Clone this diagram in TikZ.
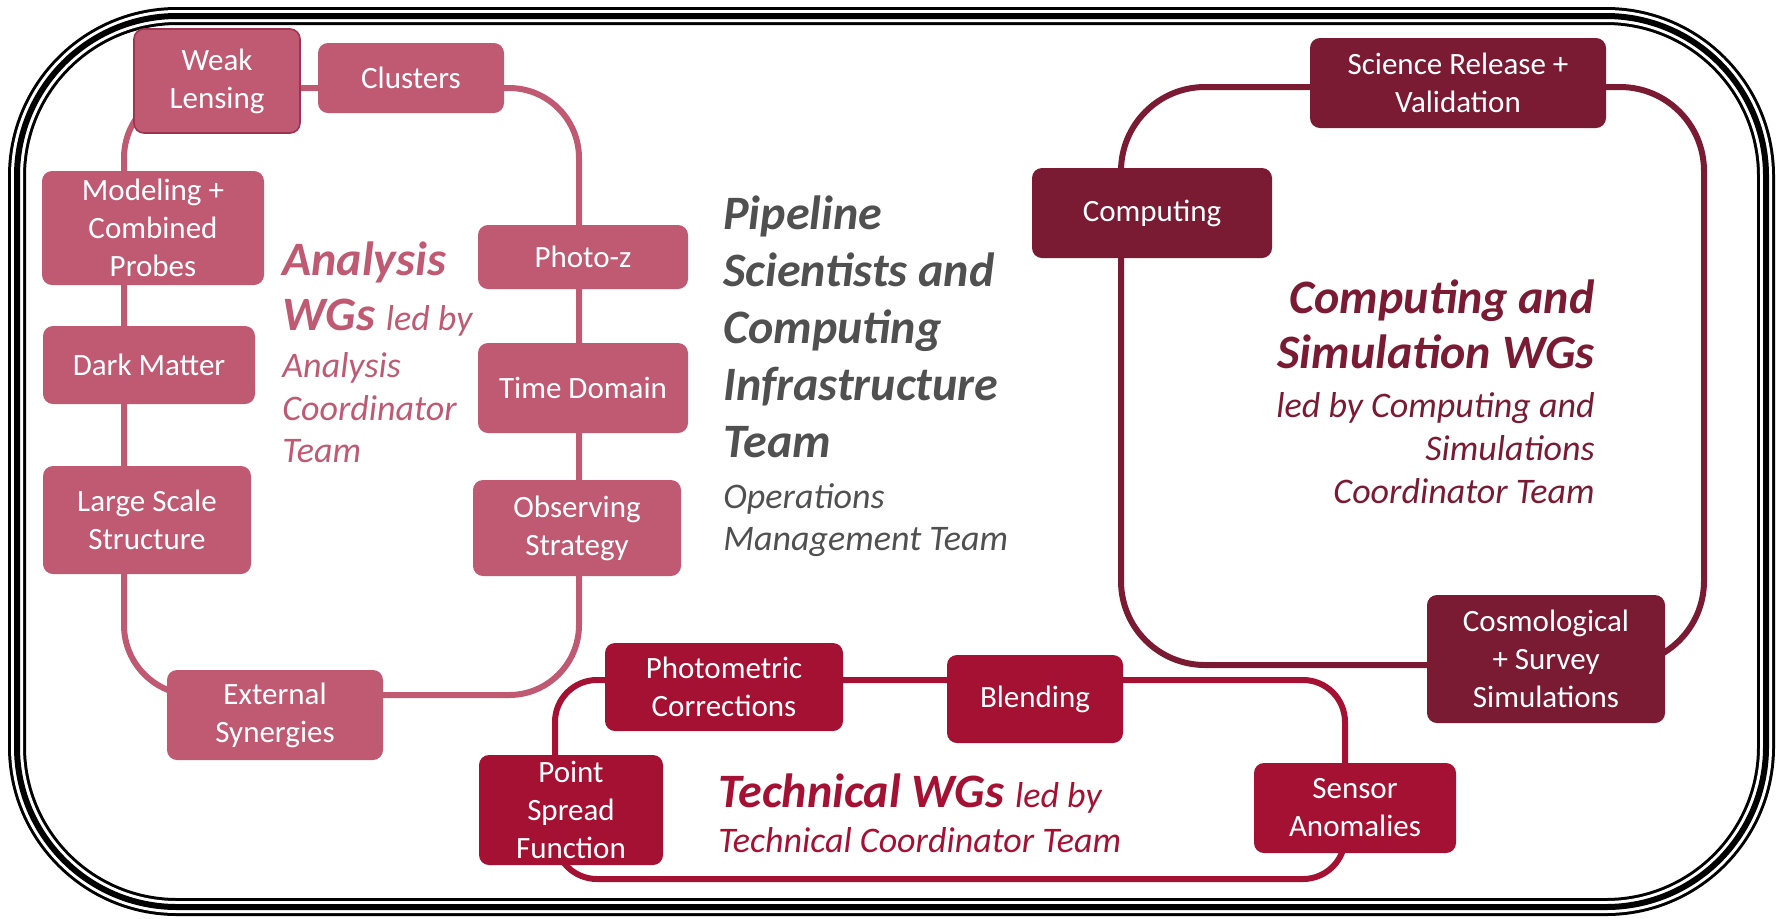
\documentclass[tikz,border=0pt]{standalone}
\usepackage{fontspec}
\setmainfont{Carlito}
\definecolor{anacol}{RGB}{192,90,115}
\definecolor{anaedge}{RGB}{160,52,80}
\definecolor{techcol}{RGB}{165,17,50}
\definecolor{compcol}{RGB}{122,27,51}
\definecolor{pipecol}{RGB}{80,80,80}
\newcommand{\subfont}{\fontsize{18}{21.6}\selectfont\mdseries\itshape}
\tikzset{
  wg/.style={rectangle,rounded corners=5pt,inner sep=0pt,align=center,
    text=white,font=\fontsize{15.5}{19}\selectfont},
  anabox/.style={wg,fill=anacol},
  techbox/.style={wg,fill=techcol},
  compbox/.style={wg,fill=compcol},
  wgloop/.style={line width=3pt,rounded corners=#1},
  bigtxt/.style={inner sep=0pt,font=\fontsize{24}{28.8}\selectfont\bfseries\itshape},
  smalltxt/.style={inner sep=0pt,font=\subfont}
}
\begin{document}
\begin{tikzpicture}[x=0.5pt,y=-0.5pt]
\useasboundingbox (0,0) rectangle (1783,918);
% outer frame
\draw[line width=9pt,rounded corners=80pt] (17,16) rectangle (1766,907);
\draw[white,line width=6pt,rounded corners=80pt] (17,16) rectangle (1766,907);
\draw[line width=3pt,rounded corners=80pt] (17,16) rectangle (1766,907);
% loop corners
\coordinate (anaTL) at (124,88);
\coordinate (anaBR) at (579,695);
\coordinate (techTL) at (555,680);
\coordinate (techBR) at (1345,879);
\coordinate (compTL) at (1121,87);
\coordinate (compBR) at (1704,665);
\draw[anacol,wgloop=35pt] (anaTL) rectangle (anaBR);
\draw[techcol,wgloop=21pt] (techTL) rectangle (techBR);
\draw[compcol,wgloop=42pt] (compTL) rectangle (compBR);
% analysis WGs
\node[anabox,draw=anaedge,line width=0.8pt,minimum width=83pt,minimum height=52pt] (wl) at (217,81) {Weak\\Lensing};
\node[anabox,minimum width=93pt,minimum height=35pt] (clu) at (411,78) {Clusters};
\node[anabox,minimum width=111pt,minimum height=57pt] (mcp) at (153,228) {Modeling +\\Combined\\Probes};
\node[anabox,minimum width=106pt,minimum height=39pt] (dm) at (149,365) {Dark Matter};
\node[anabox,minimum width=104pt,minimum height=54pt] (lss) at (147,520) {Large Scale\\Structure};
\node[anabox,minimum width=108pt,minimum height=45pt] (ext) at (275,715) {External\\Synergies};
\node[anabox,minimum width=105pt,minimum height=32pt] (pz) at (583,257) {Photo-z};
\node[anabox,minimum width=105pt,minimum height=45pt] (td) at (583,388) {Time Domain};
\node[anabox,minimum width=104pt,minimum height=48pt] (os) at (577,528) {Observing\\Strategy};
% technical WGs
\node[techbox,minimum width=119pt,minimum height=44pt] (phc) at (724,687) {Photometric\\Corrections};
\node[techbox,minimum width=88pt,minimum height=44pt] (bl) at (1035,699) {Blending};
\node[techbox,minimum width=92pt,minimum height=55pt] (psf) at (571,810) {Point\\Spread\\Function};
\node[techbox,minimum width=101pt,minimum height=45pt] (sa) at (1355,808) {Sensor\\Anomalies};
% computing and simulation WGs
\node[compbox,minimum width=148pt,minimum height=45pt] (srv) at (1458,83) {Science Release +\\Validation};
\node[compbox,minimum width=120pt,minimum height=45pt] (cmp) at (1152,213) {Computing};
\node[compbox,minimum width=119pt,minimum height=64pt] (css) at (1546,659) {Cosmological\\+ Survey\\Simulations};
% labels
\node[bigtxt,text=anacol,anchor=base west] (ana1) at (282,275) {Analysis};
\node[bigtxt,text=anacol,anchor=base west] (ana2) at (282,330) {WGs {\subfont led by}};
\node[smalltxt,text=anacol,anchor=base west] (ana3) at (282,377) {Analysis};
\node[smalltxt,text=anacol,anchor=base west] (ana4) at (282,420) {Coordinator};
\node[smalltxt,text=anacol,anchor=base west] (ana5) at (282,462) {Team};
\node[bigtxt,text=pipecol,anchor=base west] (pip1) at (723,229) {Pipeline};
\node[bigtxt,text=pipecol,anchor=base west] (pip2) at (723,286) {Scientists and};
\node[bigtxt,text=pipecol,anchor=base west] (pip3) at (723,343) {Computing};
\node[bigtxt,text=pipecol,anchor=base west] (pip4) at (723,400) {Infrastructure};
\node[bigtxt,text=pipecol,anchor=base west] (pip5) at (723,457) {Team};
\node[smalltxt,text=pipecol,anchor=base west] (pip6) at (723,508) {Operations};
\node[smalltxt,text=pipecol,anchor=base west] (pip7) at (723,550) {Management Team};
\node[bigtxt,text=compcol,anchor=base east] (cs1) at (1595,313) {Computing and};
\node[bigtxt,text=compcol,anchor=base east] (cs2) at (1595,368) {Simulation WGs};
\node[smalltxt,text=compcol,anchor=base east] (cs3) at (1595,417) {led by Computing and};
\node[smalltxt,text=compcol,anchor=base east] (cs4) at (1595,460) {Simulations};
\node[smalltxt,text=compcol,anchor=base east] (cs5) at (1595,503) {Coordinator Team};
\node[bigtxt,text=techcol,anchor=base west] (tec1) at (718,807) {Technical WGs {\subfont led by}};
\node[smalltxt,text=techcol,anchor=base west] (tec2) at (718,852) {Technical Coordinator Team};
\end{tikzpicture}
\end{document}
